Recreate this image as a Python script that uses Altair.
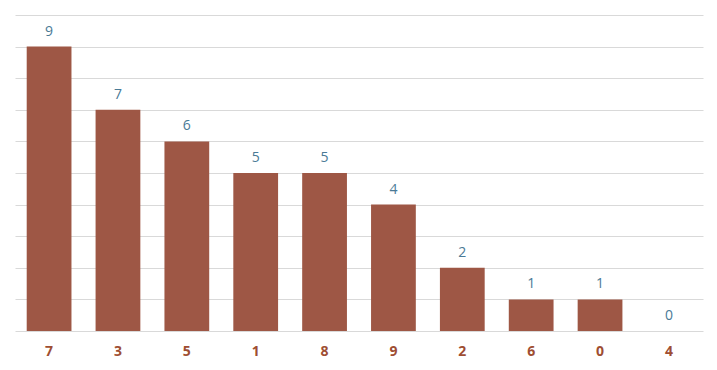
import altair as alt
import pandas as pd

categories = ["7", "3", "5", "1", "8", "9", "2", "6", "0", "4"]
values = [9, 7, 6, 5, 5, 4, 2, 1, 1, 0]

df = pd.DataFrame({"cat": categories, "val": values})

x = alt.X("cat:N", sort=categories, title=None,
          scale=alt.Scale(paddingInner=0.35, paddingOuter=0.17),
          axis=alt.Axis(labelAngle=0, labelFontWeight="bold", labelColor="#9E4E32",
                        labelFontSize=14, labelPadding=13, ticks=False, domain=False,
                        grid=False, labelFont="Open Sans"))
y = alt.Y("val:Q", title=None,
          scale=alt.Scale(domain=[0, 10], nice=False),
          axis=alt.Axis(values=list(range(0, 11)), labels=False, ticks=False, domain=False,
                        gridColor="#D9D9D9", gridWidth=1))

base = alt.Chart(df).encode(x=x, y=y)
bars = base.mark_bar(color="#9E5745")
text = base.mark_text(dy=-15, fontSize=14, color="#4A7A96", font="Open Sans").encode(text="val:Q")

chart = (bars + text).properties(
    width=688, height=316,
    padding={"left": 15, "top": 15, "right": 14, "bottom": 39},
    autosize=alt.AutoSizeParams(type="none"),
    background="white",
).configure_view(stroke=None)

chart.save("out.html", embed_options={"renderer": "svg", "actions": False})
